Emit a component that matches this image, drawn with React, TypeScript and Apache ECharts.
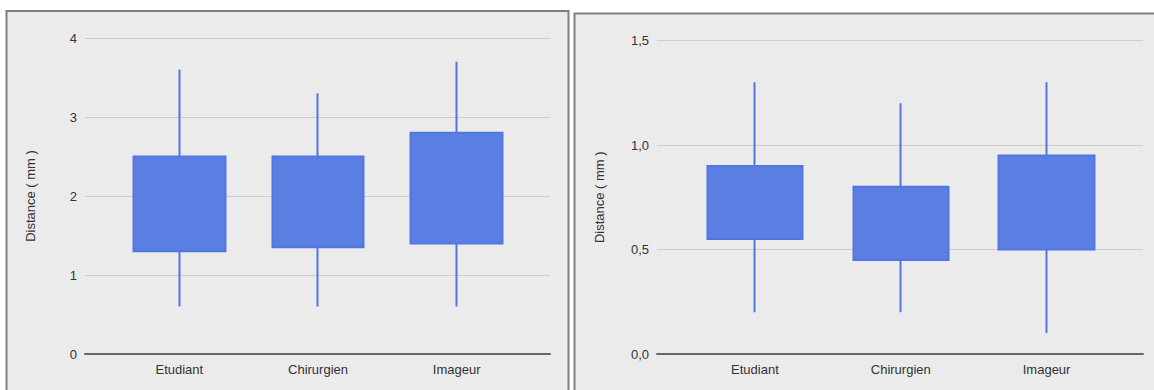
import React, { useEffect, useRef } from "react";
import * as echarts from "echarts";

const categories = ["Etudiant", "Chirurgien", "Imageur"];

// Left chart (mm)
const leftQ1 = [1.3, 1.35, 1.4];
const leftQ3 = [2.5, 2.5, 2.8];
const leftLow = [0.6, 0.6, 0.6];
const leftHigh = [3.6, 3.3, 3.7];

// Right chart (mm)
const rightQ1 = [0.55, 0.45, 0.5];
const rightQ3 = [0.9, 0.8, 0.95];
const rightLow = [0.2, 0.2, 0.1];
const rightHigh = [1.3, 1.2, 1.3];

const leftAxis = { min: 0, max: 4, interval: 1 };
const rightAxis = { min: 0, max: 1.5, interval: 0.5 };

const yTitle = "Distance ( mm )";

const FONT = "Liberation Sans, Arial, sans-serif";
const BOX = "#5a7ee2";
const WICK = "#5276e1";

function candles(q1: number[], q3: number[], lo: number[], hi: number[]) {
  return q1.map((v, i) => [v, q3[i], lo[i], hi[i]]);
}

export default function App() {
  const ref = useRef<HTMLDivElement>(null);
  useEffect(() => {
    if (!ref.current) return;
    const chart = echarts.init(ref.current, undefined, { renderer: "svg" });
    const labelStyle = { color: "#333", fontSize: 13, fontFamily: FONT };
    const bgYAxis = (gridIndex: number, ax: any, gap: number, fmt?: (v: number) => string) => ({
      type: "value",
      gridIndex,
      min: ax.min,
      max: ax.max,
      interval: ax.interval,
      name: yTitle,
      nameLocation: "middle",
      nameGap: gap,
      nameRotate: 90,
      nameTextStyle: { color: "#333", fontSize: 13, fontFamily: FONT },
      axisLine: { show: false },
      axisTick: { show: false },
      axisLabel: { ...labelStyle, margin: 8, formatter: fmt },
      splitLine: { show: true, lineStyle: { color: "#cdcdcd", width: 1 } },
    });
    const hiddenYAxis = (gridIndex: number, ax: any) => ({
      type: "value",
      gridIndex,
      min: ax.min,
      max: ax.max,
      interval: ax.interval,
      show: false,
      splitLine: { show: false },
    });
    const baseXAxis = (gridIndex: number) => ({
      type: "value",
      gridIndex,
      min: 0,
      max: 1,
      axisLine: { show: true, onZero: false, lineStyle: { color: "#666", width: 2 } },
      axisTick: { show: false },
      axisLabel: { show: false },
      splitLine: { show: false },
    });
    const catXAxis = (gridIndex: number) => ({
      type: "category",
      gridIndex,
      data: categories,
      boundaryGap: true,
      axisLine: { show: false },
      axisTick: { show: false },
      axisLabel: { ...labelStyle, margin: 9 },
      splitLine: { show: false },
    });
    const commaFmt = (v: number) => v.toFixed(1).replace(".", ",");
    const candleStyle = {
      color: BOX,
      color0: BOX,
      borderColor: WICK,
      borderColor0: WICK,
      borderWidth: 2,
    };
    chart.setOption({
      animation: false,
      backgroundColor: "#ffffff",
      graphic: [
        {
          type: "rect",
          z: -10,
          silent: true,
          shape: { x: 6.5, y: 11, width: 562, height: 400 },
          style: { fill: "#ebebeb", stroke: "#7f7f7f", lineWidth: 2 },
        },
        {
          type: "rect",
          z: -10,
          silent: true,
          shape: { x: 574.5, y: 13.5, width: 600, height: 400 },
          style: { fill: "#ebebeb", stroke: "#7f7f7f", lineWidth: 2 },
        },
      ],
      grid: [
        { left: 85, top: 38, width: 465, height: 316 },
        { left: 110, top: 38, width: 416, height: 316 },
        { left: 657, top: 40.5, width: 486, height: 313.5 },
        { left: 682, top: 40.5, width: 437.5, height: 313.5 },
      ],
      xAxis: [baseXAxis(0), catXAxis(1), baseXAxis(2), catXAxis(3)],
      yAxis: [
        bgYAxis(0, leftAxis, 48),
        hiddenYAxis(1, leftAxis),
        bgYAxis(2, rightAxis, 51, commaFmt),
        hiddenYAxis(3, rightAxis),
      ],
      series: [
        {
          type: "candlestick",
          xAxisIndex: 1,
          yAxisIndex: 1,
          barWidth: 92,
          itemStyle: candleStyle,
          data: candles(leftQ1, leftQ3, leftLow, leftHigh),
        },
        {
          type: "candlestick",
          xAxisIndex: 3,
          yAxisIndex: 3,
          barWidth: 96,
          itemStyle: candleStyle,
          data: candles(rightQ1, rightQ3, rightLow, rightHigh),
        },
      ],
    });
    return () => chart.dispose();
  }, []);
  return (
    <div
      ref={ref}
      style={{ position: "absolute", left: 0, top: 0, width: 1154, height: 390 }}
    />
  );
}
